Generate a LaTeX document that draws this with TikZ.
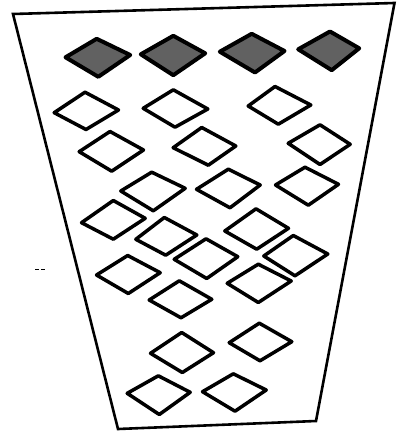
\documentclass[tikz,border=0pt]{standalone}
\tikzset{
  dia/.style={draw=black, line width=3.5pt, line join=round},
  fdia/.style={draw=black, line width=4pt, line join=round, fill=black!62},
  frame/.style={draw=black, line width=2.6pt, line join=miter}
}
\newcommand\dd[9][dia]{\draw[#1] (#2+1.5,#3) -- (#4,#5+1.5) -- (#6-1.5,#7) -- (#8,#9-1.5) -- cycle;}
\begin{document}
\begin{tikzpicture}[x=1pt,y=-1pt]
\useasboundingbox (0,0) rectangle (396,433);
% frame
\coordinate (tl) at (13,14);
\coordinate (tr) at (394.5,3);
\coordinate (br) at (316,421);
\coordinate (bl) at (118,429);
\draw[frame] (tl) -- (tr) -- (br) -- (bl) -- cycle;
% filled diamonds (L, T, R, B)
\dd[fdia]{64}{57.3}{96.7}{37.3}{131.7}{55}{98.3}{78.3}
\dd[fdia]{139.3}{54.3}{173.3}{34.3}{206.7}{53.3}{173.3}{76.7}
\dd[fdia]{218.3}{51.7}{251.7}{32.3}{286}{51}{255}{74}
\dd[fdia]{296.7}{49.3}{330}{30}{360.7}{48.3}{331.7}{71.7}
% outline diamonds
\dd{52.7}{112.7}{85}{90.7}{120}{110}{86}{131}
\dd{141.7}{108.3}{173.3}{88.3}{209.3}{109}{175}{128.7}
\dd{246.7}{106}{275}{85}{312.3}{105}{278.3}{125.7}
\dd{77.7}{151.7}{110}{130}{145}{150}{111.7}{172.7}
\dd{171.7}{147.7}{201.7}{126}{237.3}{146}{208.3}{166.7}
\dd{286.7}{143.3}{320}{123.3}{351.7}{144.3}{320}{166}
\dd{119.3}{191}{151.7}{170.7}{186.7}{188.3}{153.3}{212.3}
\dd{195}{189.3}{228.3}{167.7}{261.7}{185}{230}{209.3}
\dd{274}{185}{305}{165.7}{340}{184.3}{308.3}{206.7}
\dd{80}{222.7}{113.3}{199}{146.7}{218.3}{113.3}{240.7}
\dd{223.3}{231}{256}{207.3}{290}{228.3}{256.7}{250.7}
\dd{134.3}{239.3}{164.3}{216}{198.3}{235}{165.7}{256.7}
\dd{262.3}{256}{293.3}{234}{329.3}{254}{295}{277.3}
\dd{172.7}{259.3}{206}{237.3}{239.3}{256.7}{206.7}{280}
\dd{95}{275}{127.7}{254}{161.7}{272.7}{128.3}{295}
\dd{225.7}{283.3}{258.3}{262.7}{292.7}{281}{258.3}{304}
\dd{147.7}{300}{179.3}{279.3}{213.3}{299.3}{181}{319.3}
\dd{227.7}{342.7}{259.3}{321.7}{293.3}{341.7}{260}{362.3}
\dd{149}{353.3}{181.7}{331}{215}{352.7}{182.3}{374}
\dd{125.7}{393.3}{158.3}{374.3}{191.7}{392.3}{159.3}{416}
\dd{201}{391.7}{233.3}{372.3}{267.7}{390}{235}{412.7}
% small mark at left
\coordinate (m1) at (35,269.5);
\coordinate (m2) at (45,269.5);
\draw[line width=1.5pt, dash pattern=on 3.5pt off 2.5pt] (m1) -- (m2);
\end{tikzpicture}
\end{document}
